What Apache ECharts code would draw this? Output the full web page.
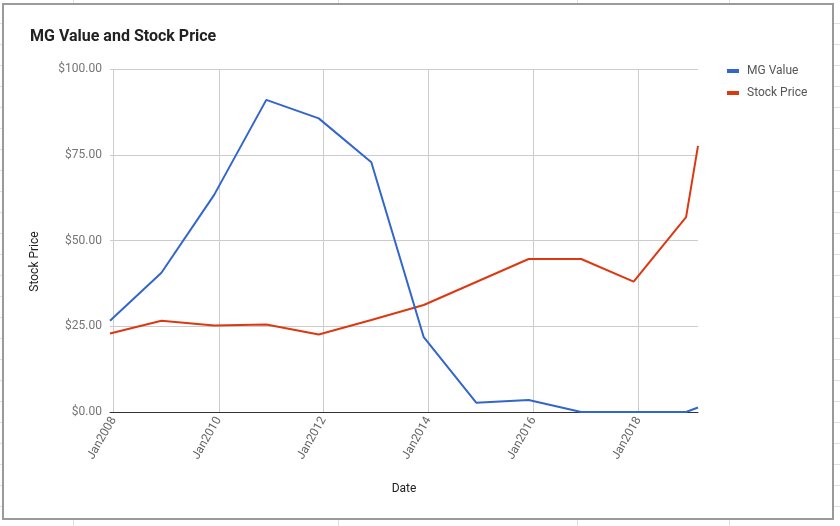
<!DOCTYPE html>
<html>
<head>
<meta charset="utf-8">
<script src="https://cdn.jsdelivr.net/npm/echarts@6/dist/echarts.min.js"></script>
<style>
html,body{margin:0;padding:0;background:#fff;}
#c{width:840px;height:526px;}
</style>
</head>
<body>
<div id="c"></div>
<script>
const dates = ['2007-12-06','2008-11-28','2009-11-30','2010-11-28','2011-11-28','2012-11-28','2013-11-28','2014-11-28','2015-11-28','2016-11-28','2017-11-28','2018-11-28','2019-02-19'];
const mgValue = [26.6, 40.6, 63.3, 91.0, 85.6, 72.8, 21.8, 2.7, 3.5, 0, 0, 0, 1.3];
const stockPrice = [22.9, 26.6, 25.2, 25.5, 22.6, 26.8, 31.2, 37.9, 44.6, 44.6, 38.0, 56.8, 77.6];
const xTickYears = [2008, 2010, 2012, 2014, 2016, 2018];
const yTicks = [0, 25, 50, 75, 100];

function ts(s) { const p = s.split('-').map(Number); return new Date(p[0], p[1] - 1, p[2]).getTime(); }
const times = dates.map(ts);
const xTickValues = xTickYears.map(y => new Date(y, 0, 1).getTime());
const seriesNames = ['MG Value', 'Stock Price'];

const chart = echarts.init(document.getElementById('c'), null, {renderer: 'canvas'});

const deco = [];
deco.push({type:'rect', shape:{x:3, y:4, width:830, height:515}, style:{fill:'#fff', stroke:'#9a9a9a', lineWidth:2}, z:-10, silent:true});
[73, 338, 577, 729].forEach(x => {
  deco.push({type:'line', shape:{x1:x+0.5, y1:0, x2:x+0.5, y2:3}, style:{stroke:'#e0e0e0', lineWidth:1}, z:-11, silent:true});
  deco.push({type:'line', shape:{x1:x+0.5, y1:520, x2:x+0.5, y2:526}, style:{stroke:'#e0e0e0', lineWidth:1}, z:-11, silent:true});
});
for (let y = 22.7; y < 526; y += 21.01) {
  const yy = Math.round(y) + 0.5;
  deco.push({type:'line', shape:{x1:0, y1:yy, x2:2, y2:yy}, style:{stroke:'#e0e0e0', lineWidth:1}, z:-11, silent:true});
  deco.push({type:'line', shape:{x1:834, y1:yy, x2:840, y2:yy}, style:{stroke:'#e0e0e0', lineWidth:1}, z:-11, silent:true});
}

const option = {
  animation: false,
  backgroundColor: '#fff',
  graphic: deco,
  title: {
    text: 'MG Value and Stock Price',
    left: 25, top: 24,
    textStyle: {fontFamily: 'Roboto', fontSize: 16, fontWeight: 'bold', color: '#222'}
  },
  legend: {
    orient: 'vertical',
    left: 722, top: 59,
    itemWidth: 12, itemHeight: 4, itemGap: 8,
    icon: 'rect',
    data: seriesNames,
    textStyle: {fontFamily: 'Roboto', fontSize: 12, color: '#555', lineHeight: 14, padding: [0,0,0,3]}
  },
  grid: {left: 110, right: 142, top: 69, bottom: 114, containLabel: false, outerBoundsMode: 'none'},
  xAxis: {
    type: 'value',
    min: times[0], max: times[times.length - 1],
    name: 'Date', nameLocation: 'middle', nameGap: 71,
    nameTextStyle: {fontFamily: 'Roboto', fontSize: 12, color: '#222'},
    axisLine: {show: true, onZero: true, lineStyle: {color: '#333', width: 1}},
    axisTick: {show: false, customValues: xTickValues},
    axisLabel: {
      customValues: xTickValues,
      rotate: 60, margin: 6,
      fontFamily: 'Roboto', fontSize: 12, color: '#666',
      formatter: v => 'Jan' + new Date(v).getFullYear()
    },
    splitLine: {show: true, lineStyle: {color: '#cccccc', width: 1}}
  },
  yAxis: {
    type: 'value',
    min: yTicks[0], max: yTicks[yTicks.length - 1], interval: 25,
    name: 'Stock Price', nameLocation: 'middle', nameGap: 69,
    nameTextStyle: {fontFamily: 'Roboto', fontSize: 12, color: '#222', padding: [0, 42, 0, 0]},
    axisLine: {show: false},
    axisTick: {show: false},
    axisLabel: {margin: 8, fontFamily: 'Roboto', fontSize: 12, color: '#757575', formatter: v => '$' + v.toFixed(2)},
    splitLine: {show: true, lineStyle: {color: '#cccccc', width: 1}}
  },
  series: [
    {name: seriesNames[0], type: 'line', data: times.map((t, i) => [t, mgValue[i]]), showSymbol: false, symbol: 'none', color: '#3366cc', lineStyle: {width: 2, color: '#3366cc'}, z: 3},
    {name: seriesNames[1], type: 'line', data: times.map((t, i) => [t, stockPrice[i]]), showSymbol: false, symbol: 'none', color: '#dc3912', lineStyle: {width: 2, color: '#dc3912'}, z: 2}
  ]
};
chart.setOption(option);
</script>
</body>
</html>
